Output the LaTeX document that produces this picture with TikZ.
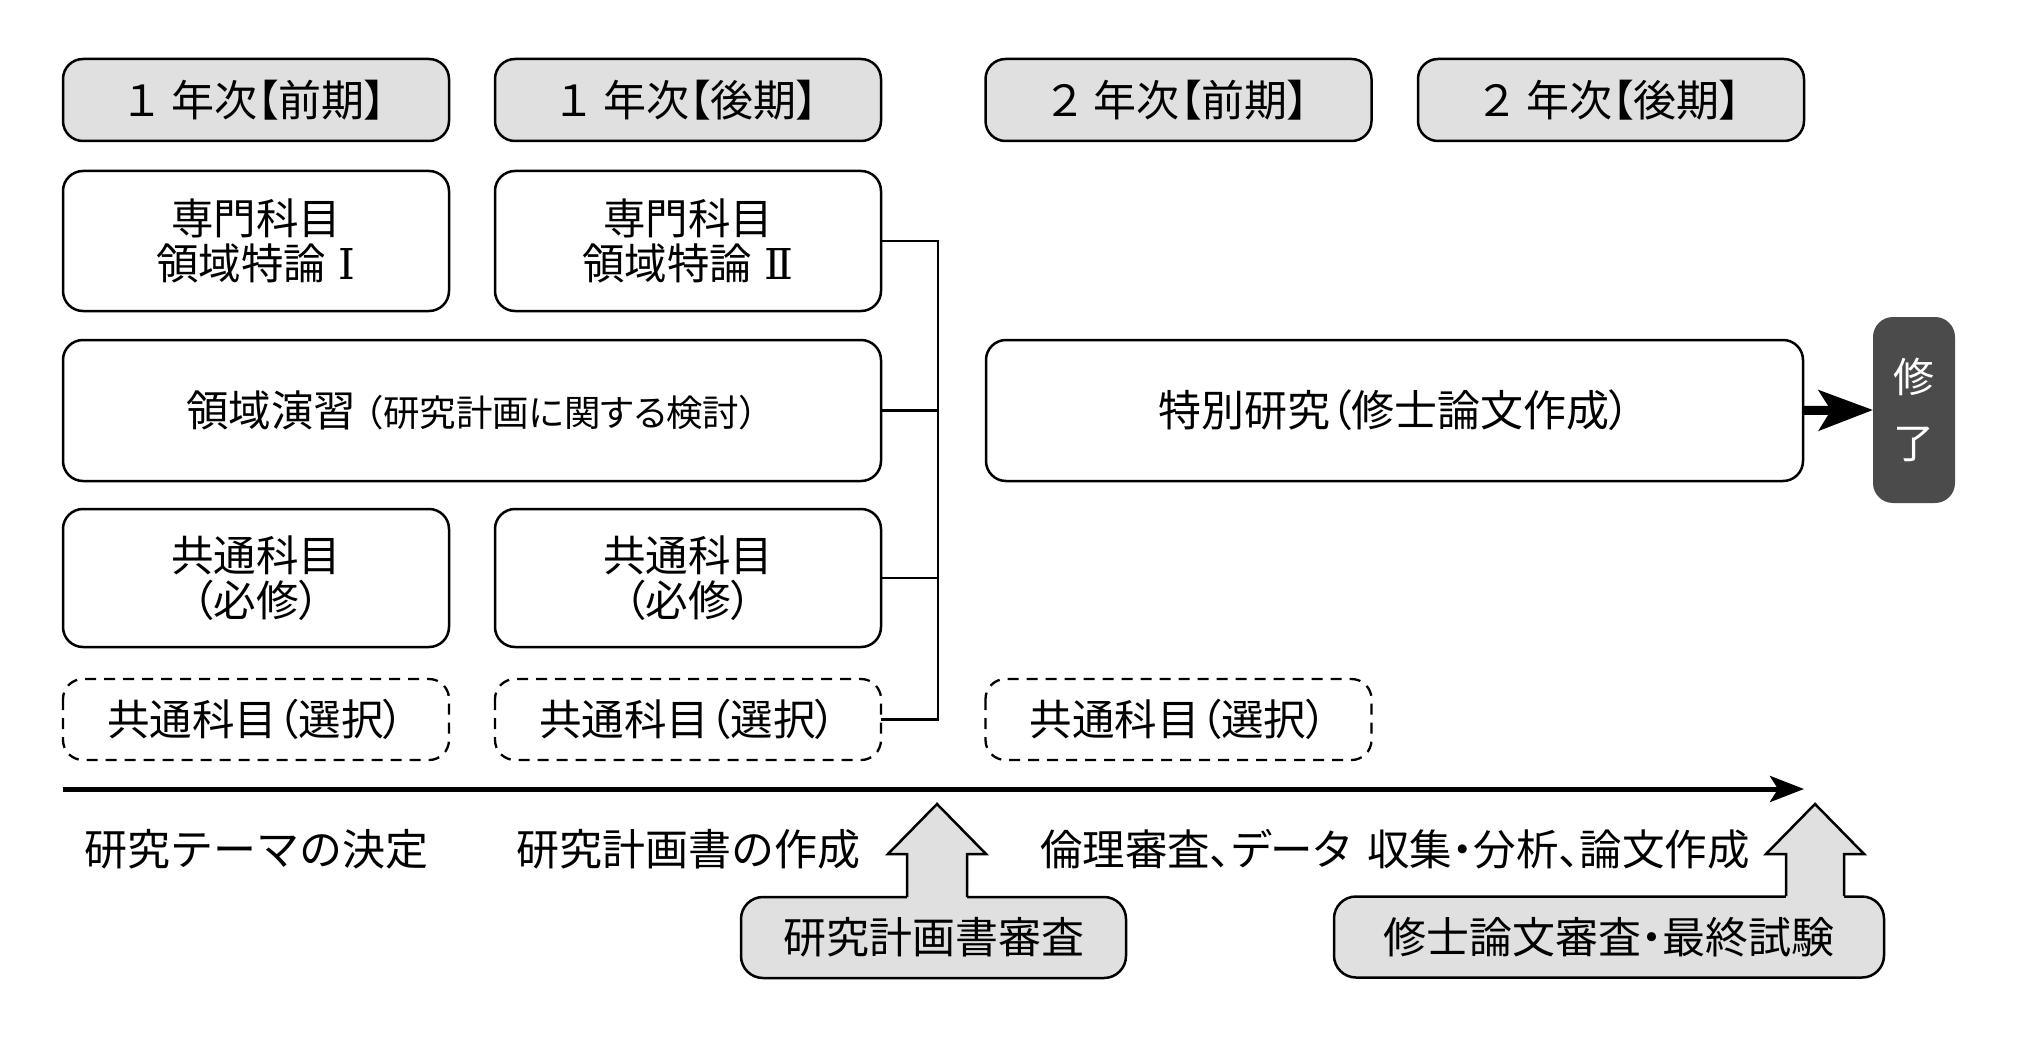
\documentclass[tikz,border=0pt]{standalone}
\usepackage{fontspec}
\setmainfont{Noto Sans CJK JP}
\newfontfamily\pj[RawFeature=+palt]{Noto Sans CJK JP}
\newfontfamily\rmnum{DejaVu Serif}
\usetikzlibrary{arrows.meta}
\definecolor{hdrgray}{HTML}{E0E0E0}
\definecolor{darkbox}{HTML}{4B4B4B}
\begin{document}
\begin{tikzpicture}[x=1pt,y=-1pt,
  every node/.style={inner sep=0pt, outer sep=0pt, align=center},
  base/.style={draw=black, line width=2.5pt, rounded corners=20pt, font=\fontsize{42.5}{45}\selectfont},
  hdr/.style={base, fill=hdrgray, minimum width=386pt, minimum height=82pt, font=\pj\fontsize{43}{46}\selectfont},
  subj/.style={base, minimum width=386pt, minimum height=140pt},
  optbox/.style={base, draw=none, minimum width=386pt, minimum height=81pt, font=\pj\fontsize{42.5}{46}\selectfont},
  optline/.style={line width=2.3pt, dash pattern=on 11pt off 8pt, rounded corners=20pt},
  gbox/.style={base, fill=hdrgray, minimum height=81pt, rounded corners=22pt, font=\pj\fontsize{43}{46}\selectfont},
  lbl/.style={font=\fontsize{43}{46}\selectfont},
  conn/.style={draw=black, line width=2.5pt},
  blk/.style={line width=2.5pt, line join=miter}
]
\fill[white] (0,0) rectangle (2030,1054);
\useasboundingbox (0,0) rectangle (2030,1054);

% headers
\node[hdr] (h1) at (256,100) {１\hspace{0.3em}年次【前期】};
\node[hdr] (h2) at (688,100) {１\hspace{0.3em}年次【後期】};
\node[hdr] (h3) at (1178.5,100) {２\hspace{0.3em}年次【前期】};
\node[hdr] (h4) at (1611,100) {２\hspace{0.3em}年次【後期】};

% row 2
\node[subj] (s1) at (256,241) {専門科目\\領域特論\hspace{0.3em}{\rmnum Ⅰ}};
\node[subj] (s2) at (688,241) {専門科目\\領域特論\hspace{0.3em}{\rmnum Ⅱ}};

% row 3
\node[base, minimum width=818pt, minimum height=141pt] (en) at (472,410.5)
  {領域演習\hspace{0.2em}{\pj\fontsize{36.5}{40}\selectfont （研究計画に関する検討）}};
\node[base, minimum width=817pt, minimum height=141pt, font=\pj\fontsize{43}{46}\selectfont] (tk) at (1394.5,410.5)
  {特別研究（修士論文作成）};
\node[fill=darkbox, rounded corners=20pt, minimum width=82pt, minimum height=186pt,
  text=white, font=\fontsize{41}{66}\selectfont] (fin) at (1914,410) {修\\了};
\draw[line width=9pt, -{Stealth[length=54pt,width=40pt,inset=12pt]}] (tk.east) -- (fin.west);

% row 4
\node[subj, minimum height=138pt] (k1) at (256,578) {共通科目\\{\pj （必修）}};
\node[subj, minimum height=138pt] (k2) at (688,578) {共通科目\\{\pj （必修）}};

% row 5 (dashed)
\node[optbox] (d1) at (256,719.5) {共通科目（選択）};
\node[optbox] (d2) at (688,719.5) {共通科目（選択）};
\node[optbox] (d3) at (1178.5,719.5) {共通科目（選択）};
\foreach \n in {d1,d2,d3} {\draw[optline] (\n.north west) rectangle (\n.south east);}

% bracket connector
\coordinate (bx) at (938,0);
\draw[conn] (s2.east) -| (bx |- d2.east) -- (d2.east);
\draw[conn] (en.east) -- (en.east -| bx);
\draw[conn] (k2.east) -- (k2.east -| bx);

% timeline
\coordinate (t0) at (63,789);
\coordinate (t1) at (1804,789);
\draw[line width=5pt, -{Stealth[length=34pt,width=26pt,inset=8pt]}] (t0) -- (t1);

% labels
\node[lbl] (l1) at (256,849) {研究テーマの決定};
\node[lbl] (l2) at (688,849) {研究計画書の作成};
\node[lbl, font=\pj\fontsize{42.5}{46}\selectfont] (l3) at (1395,849) {倫理審査、データ\hspace{0.4em}収集・分析、論文作成};

% review 1
\node[gbox, minimum width=385pt] (r1) at (933.5,937.5) {研究計画書審査};
\coordinate (a1) at (937,804);
\fill[hdrgray] (907,900) -- (907,854) -- (888,854) -- (a1) -- (986,854) -- (967,854) -- (967,900) -- cycle;
\draw[blk] (907,897) -- (907,854) -- (888,854) -- (a1) -- (986,854) -- (967,854) -- (967,897);

% review 2
\node[gbox, minimum width=550pt] (r2) at (1609,937) {修士論文審査・最終試験};
\coordinate (a2) at (1815,804);
\fill[hdrgray] (1786,899.5) -- (1786,854) -- (1766,854) -- (a2) -- (1864,854) -- (1844,854) -- (1844,899.5) -- cycle;
\draw[blk] (1786,896) -- (1786,854) -- (1766,854) -- (a2) -- (1864,854) -- (1844,854) -- (1844,896);
\end{tikzpicture}
\end{document}
